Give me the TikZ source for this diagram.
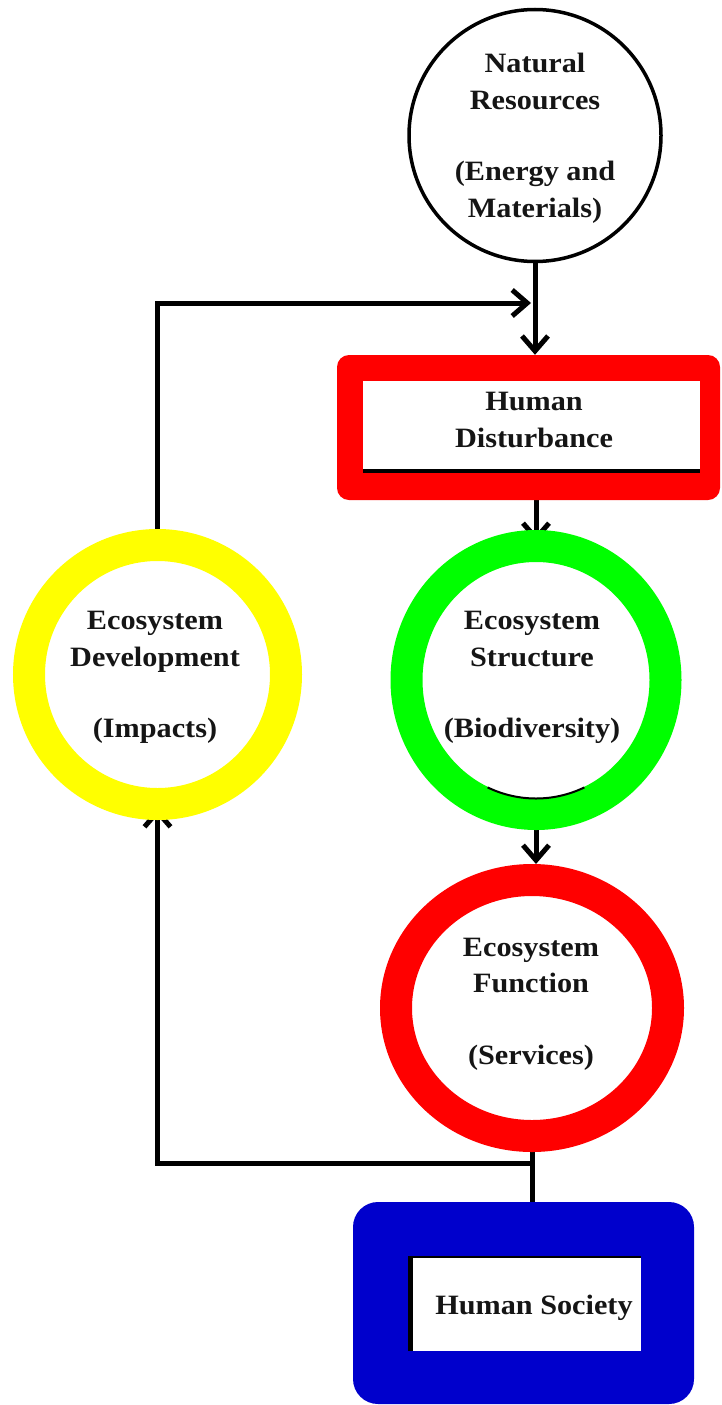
\documentclass[tikz,border=0pt]{standalone}
\usepackage{fontspec}
\newfontfamily\lab[FakeStretch=1.08]{Liberation Serif}
\usetikzlibrary{arrows.meta,shapes.geometric}
\definecolor{ringyellow}{HTML}{FFFF00}
\definecolor{ringgreen}{HTML}{00FF00}
\definecolor{ringred}{HTML}{FF0000}
\definecolor{socblue}{HTML}{0000CC}
\definecolor{ink}{HTML}{151515}
\pgfdeclarelayer{background}
\pgfsetlayers{background,main}
\begin{document}
\begin{tikzpicture}[x=1pt,y=-1pt,
  lbl/.style={font=\lab\bfseries\fontsize{28}{36.5}\selectfont, text=ink, align=center, inner sep=0pt},
  ring/.style={ellipse, inner sep=0pt, line width=32pt},
  conn/.style={line width=5pt, draw=black},
  arr/.style={conn, -{Straight Barb[length=15pt,width=26pt]}},
  boxshape/.style={rectangle, inner sep=0pt},
  hidden tip/.style={shorten >=-12pt},
]
\useasboundingbox (0,0) rectangle (721,1405);

% Natural resources
\node[ellipse, draw=black, line width=3.5pt, fill=white, inner sep=0pt,
      minimum width=252pt, minimum height=252pt] (nr) at (535,135.5) {};
\node[lbl] (nrt) at (535,138.5) {Natural\\Resources\\[35pt](Energy and\\Materials)};

% Human disturbance
\node[boxshape, fill=ringred, rounded corners=12pt, minimum width=383pt, minimum height=145pt] (hd) at (528.5,427.5) {};
\fill[white] (363,381) rectangle (700,473);
\draw[black, line width=4pt] (363,471) -- (700,471);
\node[lbl] (hdt) at (534,420) {Human\\Disturbance};

% Rings
\node[ring, draw=ringyellow, minimum width=257pt, minimum height=259pt] (ed) at (157.5,674.5) {};
\node[lbl] (edt) at (155,677.5) {Ecosystem\\Development\\[35pt](Impacts)};

\node[ring, draw=ringgreen, minimum width=259pt, minimum height=268pt] (es) at (536,680) {};
\draw[black, line width=2pt] (es.center) ++(65:114.5 and 118.5) arc[start angle=65, end angle=115, x radius=114.5, y radius=118.5];
\node[lbl] (est) at (532,677.5) {Ecosystem\\Structure\\[35pt](Biodiversity)};

\node[ring, draw=ringred, minimum width=272pt, minimum height=256pt] (ef) at (532,1008) {};
\node[lbl] (eft) at (531,1004) {Ecosystem\\Function\\[35pt](Services)};

% Human society
\node[boxshape, fill=socblue, rounded corners=25pt, minimum width=341pt, minimum height=202pt] (hs) at (523.5,1303) {};
\fill[white] (408,1256) rectangle (641,1351);
\draw[black, line width=2pt] (408,1257) -- (641,1257);
\draw[black, line width=5pt] (410.5,1256) -- (410.5,1351);
\node[lbl] (hst) at (534,1307.5) {Human Society};

% Connectors
\coordinate (jtop) at (531,303);
\coordinate (jbot) at (532,1163);
\begin{pgfonlayer}{background}
\draw[arr] (nr.south) -- (nr.south |- hd.north);
\draw[arr] (ed.north) |- (jtop);
\draw[arr, hidden tip] (es.north |- hd.south) -- (es.north);
\draw[arr] (es.south) -- (es.south |- ef.north);
\draw[conn] (ef.south) -- (ef.south |- hs.north);
\draw[arr, hidden tip] (jbot) -| (ed.south);
\end{pgfonlayer}
\end{tikzpicture}
\end{document}
